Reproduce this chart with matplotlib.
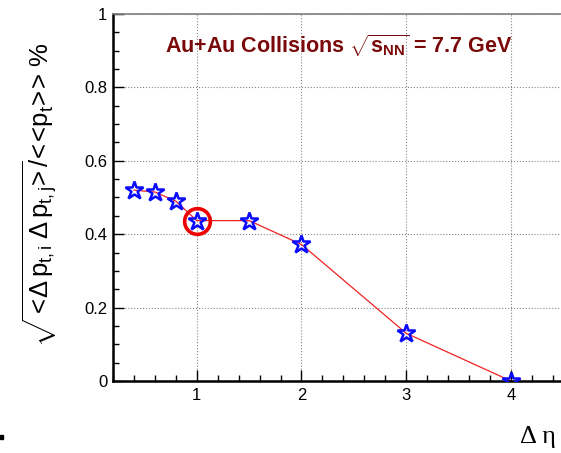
import matplotlib
matplotlib.use("Agg")
import matplotlib.pyplot as plt
from matplotlib.ticker import MultipleLocator, FormatStrFormatter
from matplotlib.patches import Rectangle

# correlation vs. eta gap, Au+Au at 7.7 GeV
delta_eta = [0.4, 0.6, 0.8, 1.0, 1.5, 2.0, 3.0, 4.0]
corr = [0.52, 0.515, 0.49, 0.437, 0.437, 0.372, 0.13, 0.0]
highlight_x = [1.0]
highlight_y = [0.437]

plt.rcParams['font.family'] = ['Liberation Sans', 'DejaVu Sans']
plt.rcParams['mathtext.fontset'] = 'custom'
plt.rcParams['mathtext.rm'] = 'Liberation Sans'
plt.rcParams['mathtext.it'] = 'Liberation Sans'
plt.rcParams['mathtext.bf'] = 'Liberation Sans:bold'

fig = plt.figure(figsize=(5.61, 4.53), dpi=100)
ax = fig.add_axes([113 / 561, 72 / 453, 448 / 561, 367 / 453])

ax.plot(delta_eta, corr, color='#ee2222', lw=0.9, zorder=2)
ax.plot(delta_eta, corr, ls='none', marker='*', ms=13.5, mfc='none',
        mec='#0a0aff', mew=1.8, zorder=3)
ax.plot(highlight_x, highlight_y, ls='none', marker='o', ms=18.5,
        mfc='none', mec='#ee0000', mew=2.6, zorder=4)

ax.set_xlim(0.2, 4.478)
ax.set_ylim(0, 1)
ax.xaxis.set_major_locator(MultipleLocator(1))
ax.xaxis.set_minor_locator(MultipleLocator(0.2))
ax.yaxis.set_major_locator(MultipleLocator(0.2))
ax.yaxis.set_minor_locator(MultipleLocator(0.05))
ax.yaxis.set_major_formatter(FormatStrFormatter('%g'))
ax.tick_params(which='both', direction='in', labelsize=12, colors='black')
ax.tick_params(which='major', length=8, width=1)
ax.tick_params(which='minor', length=4, width=1)
ax.tick_params(axis='x', pad=5)
ax.tick_params(axis='y', pad=4)
ax.grid(True, which='major', color='#888888', ls=':', lw=0.8)

for side in ['left', 'bottom']:
    ax.spines[side].set_linewidth(1.8)
    ax.spines[side].set_color('black')
ax.spines['top'].set_color('#808080')
ax.spines['top'].set_linewidth(1.2)
ax.spines['right'].set_visible(False)

ax.text(0.503, 0.912,
        r'Au+Au Collisions $\sqrt{\mathbf{s}_{\mathbf{NN}}}$ = 7.7 GeV',
        transform=ax.transAxes, ha='center', va='center',
        fontsize=15.5, fontweight='bold', color='#7a0a0a')

# relation spacing around < and > is cancelled with \!
ylab = (r'$\sqrt{<\!\Delta\,p_{t,i}\;\Delta\,p_{t,j}\!>}'
        r'\!/\!<\!\!<\!p_{t}\!>\!\!>\!$ %')
fig.text(40 / 561, 0.57, ylab, rotation=90, ha='center', va='center',
         fontsize=18.5)

fig.text(556 / 561, 16 / 453, 'Δ η', ha='right', va='center',
         fontsize=19, family='Liberation Serif')

fig.patches.append(Rectangle((0, 14 / 453), 3 / 561, 4 / 453,
                             transform=fig.transFigure, color='black'))

fig.savefig('out.png', dpi=100)
